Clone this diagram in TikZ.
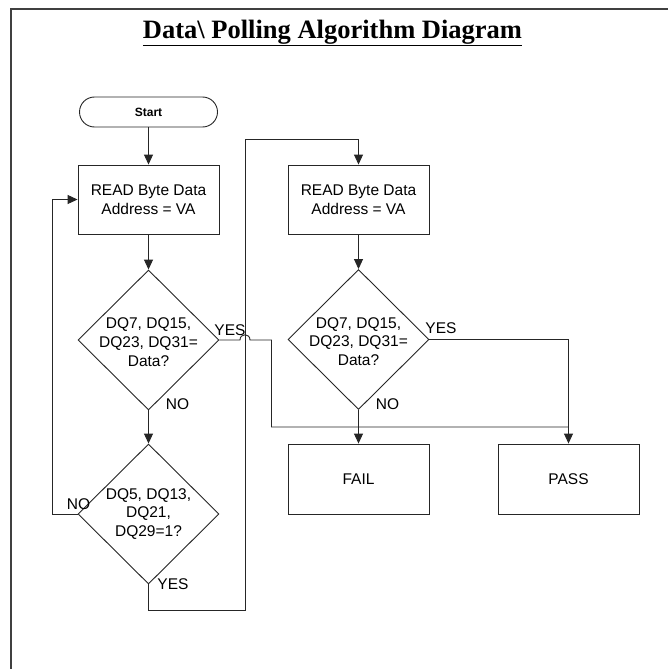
\documentclass[tikz,border=0pt]{standalone}
\usepackage{fontspec}
\setmainfont{Liberation Sans}
\newfontfamily\titlefont{Liberation Serif}
\usetikzlibrary{shapes.geometric,shapes.misc,arrows.meta}
\begin{document}
\begin{tikzpicture}[x=1pt,y=-1pt,
  every node/.style={font=\fontsize{15.5}{18.8}\selectfont},
  line/.style={draw=black!85, line width=0.9pt},
  arr/.style={line, -{Triangle[length=10pt,width=9pt]}},
  procbox/.style={draw=black!85, line width=0.9pt, rectangle, minimum width=141pt, minimum height=69pt, align=center, inner sep=0pt},
  decision/.style={draw=black!85, line width=0.9pt, diamond, minimum width=141pt, minimum height=140pt, inner sep=0pt},
  dtext/.style={align=center, inner sep=0pt},
  lbl/.style={inner sep=0pt}
]
\useasboundingbox (0,0) rectangle (668,669);
\fill[white] (0,0) rectangle (668,669);
\draw[black!75, line width=1.6pt] (10.8,669) -- (10.8,8.8) -- (668,8.8);

\node (title) at (332.5,33) {\titlefont\fontsize{26.5}{31}\selectfont\bfseries\underline{Data\textbackslash\ Polling Algorithm Diagram}};

\node[draw=black!85, line width=0.9pt, rounded rectangle, minimum width=138pt, minimum height=30pt, inner sep=0pt, font=\fontsize{12}{14}\selectfont\bfseries] (start) at (148.5,112) {Start};

\node[procbox] (box1) at (148.5,199.5) {READ Byte Data\\Address = VA};
\node[decision] (d1) at (148.5,340) {};
\node[dtext] (d1t) at (148.5,342) {DQ7, DQ15,\\DQ23, DQ31=\\Data?};
\node[decision] (d2) at (148.5,514) {};
\node[dtext] (d2t) at (148.5,514) {DQ5, DQ13,\\DQ21,\\DQ29=1?};

\node[procbox] (box2) at (358.5,199.5) {READ Byte Data\\Address = VA};
\node[decision] (d3) at (358.5,339.5) {};
\node[dtext] (d3t) at (358.5,341.5) {DQ7, DQ15,\\DQ23, DQ31=\\Data?};

\node[procbox, minimum height=70pt] (fail) at (358.5,479) {FAIL};
\node[procbox, minimum height=70pt] (pass) at (568.5,479) {PASS};

% connectors
\draw[arr] (start.south) -- (box1.north);
\draw[arr] (box1.south) -- (d1.north);
\draw[arr] (d1.south) -- (d2.north);
\draw[arr] (box2.south) -- (d3.north);
\draw[arr] (d3.south) -- (fail.north);

\coordinate (c1) at (245,610);
\coordinate (c2) at (245,139);
\draw[arr] (d2.south) |- (c1) -- (c2) -| (box2.north);

\coordinate (c3) at (52,514);
\draw[arr] (d2.west) -- (c3) |- (box1.west);

\coordinate (h1) at (240,340);
\coordinate (h2) at (250,340);
\coordinate (c4) at (271.5,340);
\coordinate (c5) at (271.5,427);
\coordinate (c6) at (568.5,427);
\draw[line] (d1.east) -- (h1) .. controls (240,333) and (250,333) .. (h2) -- (c4) -- (c5) -- (c6);
\draw[arr] (d3.east) -| (pass.north);

% labels
\node[lbl] (yes1) at (230,330) {YES};
\node[lbl] (no1) at (177.5,404) {NO};
\node[lbl] (no2) at (78.5,504) {NO};
\node[lbl] (yes2) at (173,584) {YES};
\node[lbl] (yes3) at (441,328) {YES};
\node[lbl] (no3) at (387.5,404) {NO};
\end{tikzpicture}
\end{document}
